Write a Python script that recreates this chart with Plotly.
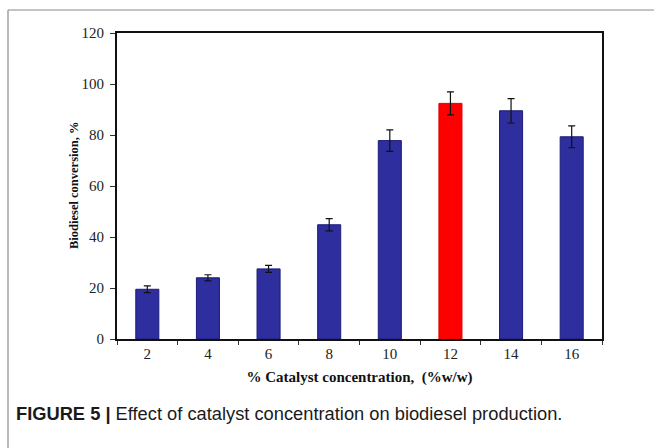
import plotly.graph_objects as go

# Catalyst loading (% w/w) and resulting biodiesel conversion (%)
catalyst = ["2", "4", "6", "8", "10", "12", "14", "16"]
conversion = [19.5, 24.0, 27.5, 44.8, 77.8, 92.4, 89.5, 79.3]
error = [1.3, 1.2, 1.4, 2.4, 4.2, 4.5, 4.8, 4.3]
y_ticks = [0, 20, 40, 60, 80, 100, 120]

# Optimum loading highlighted in red
bar_colors = ["#FF0000" if c == "12" else "#2E2E9E" for c in catalyst]
edge_colors = ["#E00000" if c == "12" else "#1C1C78" for c in catalyst]

serif = "Liberation Serif, Times New Roman, serif"

fig = go.Figure(
    go.Bar(
        x=catalyst,
        y=conversion,
        width=0.38,
        marker=dict(color=bar_colors, line=dict(color=edge_colors, width=1)),
        error_y=dict(type="data", array=error, color="#111111", thickness=1.2, width=3.5),
    )
)

L, R, T, B = 117, 52, 33, 109
W, H = 654, 448
pw, ph = W - L - R, H - T - B

def px_to_paper_x(px):
    return (px - L) / pw

def px_to_paper_y(py):
    return (H - B - py) / ph

fig.update_layout(
    width=W,
    height=H,
    margin=dict(l=L, r=R, t=T, b=B),
    paper_bgcolor="white",
    plot_bgcolor="white",
    showlegend=False,
    font=dict(family=serif, color="#222222"),
    xaxis=dict(
        type="category",
        tickson="boundaries",
        ticks="outside",
        ticklen=4,
        tickcolor="#333333",
        tickfont=dict(size=15, family=serif, color="#222222"),
        showline=True,
        linecolor="#111111",
        linewidth=2,
        mirror=True,
        showgrid=False,
        title=dict(
            text="<b>% Catalyst concentration,  (%w/w)</b>",
            font=dict(size=15, family=serif, color="#111111"),
            standoff=10,
        ),
    ),
    yaxis=dict(
        range=[0, 120],
        tickvals=y_ticks,
        ticks="outside",
        ticklen=5,
        tickcolor="#333333",
        tickfont=dict(size=15, family=serif, color="#222222"),
        ticklabelstandoff=3,
        showline=True,
        linecolor="#111111",
        linewidth=2,
        mirror=True,
        showgrid=False,
        zeroline=False,
    ),
    shapes=[
        # outer figure frame (top and left edges)
        dict(type="line", xref="paper", yref="paper",
             x0=px_to_paper_x(8), x1=px_to_paper_x(660),
             y0=px_to_paper_y(10), y1=px_to_paper_y(10),
             line=dict(color="#8A8A8A", width=1.2)),
        dict(type="line", xref="paper", yref="paper",
             x0=px_to_paper_x(8), x1=px_to_paper_x(8),
             y0=px_to_paper_y(10), y1=px_to_paper_y(460),
             line=dict(color="#8A8A8A", width=1.2)),
    ],
    annotations=[
        # y-axis title
        dict(
            xref="paper", yref="paper",
            x=px_to_paper_x(74), y=0.5,
            xanchor="center", yanchor="middle",
            textangle=-90,
            showarrow=False,
            text="<b>Biodiesel conversion, %</b>",
            font=dict(size=12.5, family=serif, color="#111111"),
        ),
        # figure caption
        dict(
            xref="paper", yref="paper",
            x=px_to_paper_x(14), y=px_to_paper_y(413),
            xanchor="left", yanchor="middle",
            showarrow=False,
            text="<b>FIGURE 5 |</b> Effect of catalyst concentration on biodiesel production.",
            font=dict(size=18.3, family="Liberation Sans, Arial, sans-serif", color="#1a1a1a"),
        ),
    ],
)

fig.write_html("out.html")
